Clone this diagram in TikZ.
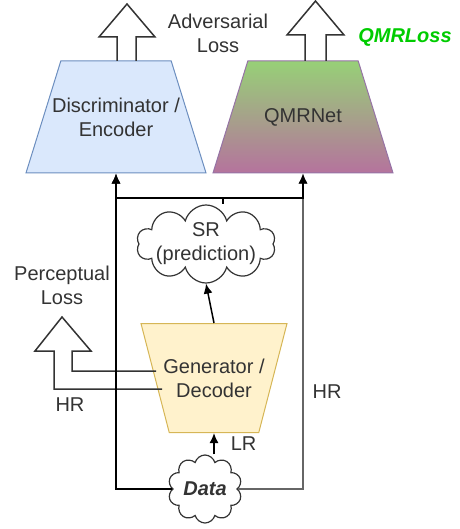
\documentclass[tikz,border=0pt]{standalone}
\usepackage{fontspec}
\setmainfont{Liberation Sans}
\usetikzlibrary{shapes.geometric, shapes.symbols, arrows.meta, positioning}
\definecolor{discfill}{HTML}{DAE8FC}
\definecolor{discline}{HTML}{6C8EBF}
\definecolor{genfill}{HTML}{FFF2CC}
\definecolor{genline}{HTML}{D6B656}
\definecolor{qmrtop}{HTML}{97D077}
\definecolor{qmrbot}{HTML}{B5739D}
\definecolor{qmrline}{HTML}{9673A6}
\definecolor{lossgreen}{HTML}{00CC00}
\definecolor{ink}{HTML}{333333}
\tikzstyle{trap}=[trapezium,trapezium angle=72.5,trapezium stretches=true,minimum width=180pt,minimum height=112pt,inner sep=1pt,line width=1pt]
\tikzstyle{cld}=[cloud,cloud puffs=10,cloud ignores aspect,draw=ink,fill=white,line width=1.2pt,inner sep=1pt]
\tikzstyle{txt}=[text=ink,align=center,font=\fontsize{20}{24}\selectfont,inner sep=0pt]
\tikzstyle{boldtxt}=[txt,font=\fontsize{20}{24}\selectfont\bfseries\itshape]
\tikzstyle{wire}=[draw=black,line width=1.5pt]
\tikzstyle{link}=[wire,-{Latex[length=10pt,width=9pt]}]
\tikzstyle{hollow}=[draw=ink,line width=1.5pt,line join=miter]

\begin{document}
\begin{tikzpicture}[x=1pt,y=-1pt]
    \useasboundingbox (0,0) rectangle (459,529);
    % networks
    \node[trap,draw=discline,fill=discfill] (disc) at (116,117) {};
    \node[txt] (disctext) at (disc.center) {Discriminator /\\Encoder};
    \node[trap,draw=qmrline,top color=qmrtop,bottom color=qmrbot] (qmr) at (303,117) {};
    \node[txt] (qmrtext) at (qmr.center) {QMRNet};
    \node[trap,shape border rotate=180,minimum width=146pt,minimum height=109pt,draw=genline,fill=genfill] (gen) at (214,378) {};
    \node[txt] (gentext) at (gen.center) {Generator /\\Decoder};
    % images
    \node[cld,minimum width=139pt,minimum height=78pt] (sr) at (206,244) {};
    \node[txt] (srtext) at (sr.center) {SR\\(prediction)};
    \node[cld,minimum width=74pt,minimum height=68pt] (data) at (205,489) {};
    \node[boldtxt] (datatext) at (data.center) {Data};
    % losses
    \node[txt] (advloss) at (218,33) {Adversarial\\Loss};
    \node[boldtxt,text=lossgreen] (qmrloss) at (405,37) {QMRLoss};
    \node[txt] (perloss) at (62,285) {Perceptual\\Loss};
    \node[txt] (hrleft) at (70,405) {HR};
    \node[txt] (hrright) at (327,392) {HR};
    \draw[hollow] (117,61) -- (117,37) -- (99,37) -- (127,4) -- (155,37) -- (136,37) -- (136,61);
    \draw[hollow] (305,61) -- (305,35) -- (287,35) -- (315.5,1) -- (344,35) -- (326,35) -- (326,61);
    \draw[hollow] (162,389) -- (54,389) -- (54,351) -- (35,351) -- (62,317) -- (91,351) -- (72,351) -- (72,371) -- (156,371);
    % data flow
    \draw[link,draw=black!60] (data.east) -| (qmr.south);
    \draw[link] (data.west) -| (disc.south);
    \coordinate (split) at (223,198);
    \draw[wire] (split) -- (split |- sr.north);
    \draw[link] (split) -| (disc.south);
    \draw[link] (split) -| (qmr.south);
    \draw[link] (gen.north) -- (sr.south);
    \draw[link] (data.north -| gen.south) -- (gen.south) node[txt,midway,right=16pt] (lr) {LR};
\end{tikzpicture}
\end{document}
